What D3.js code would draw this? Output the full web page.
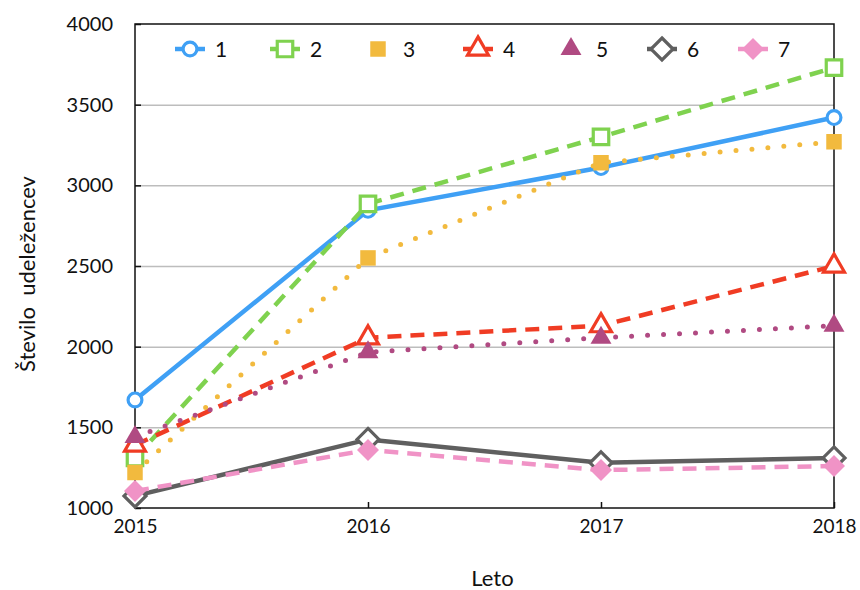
<!DOCTYPE html>
<meta charset="utf-8">
<style>
body { margin: 0; background: #fff; }
text { font-family: "Lato", "Open Sans", sans-serif; fill: #111; }
.grid line { stroke: #bdbdbd; stroke-width: 1.5; }
.grid path { display: none; }
.axis path, .axis line { stroke: #111; stroke-width: 1.5; }
</style>
<body>
<svg width="860" height="590"></svg>
<script src="https://d3js.org/d3.v7.min.js"></script>
<script>

var years = [2015, 2016, 2017, 2018];
var yTicks = [1000, 1500, 2000, 2500, 3000, 3500, 4000];
var names = ["1", "2", "3", "4", "5", "6", "7"];
var s1 = [1670, 2845, 3110, 3420];
var s2 = [1310, 2885, 3300, 3730];
var s3 = [1220, 2550, 3140, 3270];
var s4 = [1390, 2055, 2130, 2500];
var s5 = [1440, 1965, 2055, 2130];
var s6 = [1075, 1425, 1280, 1310];
var s7 = [1105, 1360, 1235, 1260];

var series = [
  {name: names[0], values: s1, color: "#3fa0f5", dash: null,     sym: "circle",   fill: false},
  {name: names[1], values: s2, color: "#7fd24f", dash: "14,9",   sym: "square",   fill: false},
  {name: names[2], values: s3, color: "#f2ba3e", dash: "0,16",   sym: "square",   fill: true},
  {name: names[3], values: s4, color: "#f03c24", dash: "14,9",   sym: "triangle", fill: false},
  {name: names[4], values: s5, color: "#b04a82", dash: "0,16",   sym: "triangle", fill: true},
  {name: names[5], values: s6, color: "#5f5f5f", dash: null,     sym: "diamond",  fill: false},
  {name: names[6], values: s7, color: "#f093c6", dash: "14,9",   sym: "diamond",  fill: true}
];

var svg = d3.select("svg"),
    margin = {top: 24, right: 26, bottom: 82, left: 135},
    width = +svg.attr("width") - margin.left - margin.right,
    height = +svg.attr("height") - margin.top - margin.bottom,
    g = svg.append("g").attr("transform", "translate(" + margin.left + "," + margin.top + ")");

var x = d3.scaleLinear().domain([2015, 2018]).range([0, width]);
var y = d3.scaleLinear().domain([1000, 4000]).range([height, 0]);

// gridlines
g.append("g")
    .attr("class", "grid")
    .call(d3.axisLeft(y).tickValues(yTicks.slice(1, -1)).tickSize(-width).tickFormat(""));

// frame
g.append("rect")
    .attr("width", width).attr("height", height)
    .attr("fill", "none").attr("stroke", "#111").attr("stroke-width", 1.5);

var xAxis = g.append("g")
    .attr("class", "axis")
    .attr("transform", "translate(0," + height + ")")
    .call(d3.axisBottom(x).tickValues(years).tickFormat(d3.format("d")).tickSize(-6).tickPadding(12));
xAxis.select(".domain").remove();
xAxis.selectAll("text").style("font-size", "19px").attr("dy", "0.66em");

var yAxis = g.append("g")
    .attr("class", "axis")
    .call(d3.axisLeft(y).tickValues(yTicks).tickFormat(d3.format("d")).tickSize(-6).tickPadding(22));
yAxis.select(".domain").remove();
yAxis.selectAll("text").style("font-size", "20px");

// titles
svg.append("text")
    .attr("x", margin.left + width / 2 + 8).attr("y", 586)
    .attr("text-anchor", "middle")
    .style("font-size", "22px")
    .text("Leto");

svg.append("text")
    .attr("transform", "translate(35," + (margin.top + height / 2 + 8) + ") rotate(-90)")
    .attr("text-anchor", "middle")
    .style("font-size", "22px")
    .style("white-space", "pre")
    .text("Število  udeležencev");

var line = d3.line()
    .x(function(d, i) { return x(years[i]); })
    .y(function(d) { return y(d); });

function symbolPath(sym) {
  if (sym === "circle") return d3.symbol(d3.symbolCircle, 150)();
  if (sym === "square") return d3.symbol(d3.symbolSquare, 240)();
  if (sym === "triangle") return d3.symbol(d3.symbolTriangle, 190)();
  return "M0,-11L11,0L0,11L-11,0Z";
}

function drawMarker(sel, s) {
  sel.append("path")
      .attr("d", symbolPath(s.sym))
      .attr("fill", s.fill ? s.color : "#fff")
      .attr("stroke", s.color)
      .attr("stroke-width", s.fill ? 0 : 3.2);
}

series.forEach(function(s) {
  g.append("path")
      .datum(s.values)
      .attr("d", line)
      .attr("fill", "none")
      .attr("stroke", s.color)
      .attr("stroke-width", s.dash === "0,16" ? 5 : 4.5)
      .attr("stroke-linecap", s.dash === "0,16" ? "round" : "butt")
      .attr("stroke-dasharray", s.dash);

  s.values.forEach(function(v, i) {
    var m = g.append("g").attr("transform", "translate(" + x(years[i]) + "," + y(v) + ")");
    drawMarker(m, s);
  });
});

// legend
var legendX = [55, 150, 243, 343, 436, 527, 618];
series.forEach(function(s, i) {
  var lg = g.append("g").attr("transform", "translate(" + legendX[i] + ",25)");
  lg.append("line")
      .attr("x1", -15).attr("x2", 15)
      .attr("stroke", s.color).attr("stroke-width", 4.5)
      .attr("stroke-dasharray", s.dash === "0,16" ? null : s.dash)
      .attr("opacity", s.dash === "0,16" ? 0 : 1);
  drawMarker(lg, s);
  lg.append("text")
      .attr("x", 25).attr("dy", "0.36em")
      .style("font-size", "21px")
      .text(s.name);
});

</script>
</body>
